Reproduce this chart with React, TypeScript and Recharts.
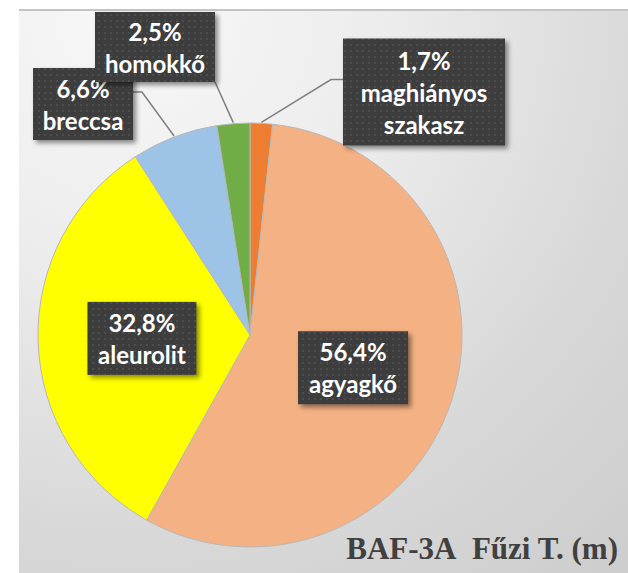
import React from 'react';
import { PieChart, Pie, Cell } from 'recharts';

const categories = ['maghiányos szakasz', 'agyagkő', 'aleurolit', 'breccsa', 'homokkő'];
const labelWords = [['maghiányos', 'szakasz'], ['agyagkő'], ['aleurolit'], ['breccsa'], ['homokkő']];
const shares = [1.7, 56.4, 32.8, 6.6, 2.5];
const colors = ['#ED7D31', '#F4B183', '#FFFF00', '#9DC3E6', '#70AD47'];
const title = 'BAF-3A\u00a0\u00a0Fűzi T. (m)';

const data = categories.map((name, i) => ({ name, value: shares[i] }));

// label box layout (position of box relative to pie centre / slice)
const boxLayout = [
  { dx: 174, dy: -243, w: 162, h: 107, side: 'left', attachY: 41, knee: -12 },
  { inside: true, rf: 0.51, w: 110, h: 73 },
  { inside: true, rf: 0.51, w: 109, h: 73 },
  { dx: -167, dy: -231, w: 100, h: 72, side: 'right', attachY: 24, knee: 9 },
  { dx: -95, dy: -288, w: 120, h: 70, side: 'right', attachY: 70, knee: 0 },
];

const RAD = Math.PI / 180;
const polar = (cx: number, cy: number, r: number, a: number) => [
  cx + r * Math.cos(-a * RAD),
  cy + r * Math.sin(-a * RAD),
];
const fmt = (v: number) => v.toFixed(1).replace('.', ',') + '%';

const renderLabel = (props: any) => {
  const { cx, cy, midAngle, outerRadius, index, value } = props;
  const L: any = boxLayout[index];
  let bx: number, by: number;
  if (L.inside) {
    [bx, by] = polar(cx, cy, outerRadius * L.rf, midAngle);
  } else {
    bx = cx + L.dx;
    by = cy + L.dy;
  }
  const left = bx - L.w / 2;
  const top = by - L.h / 2;
  const lines = [fmt(value), ...labelWords[index]];
  const spacing = 32;
  let leader = null;
  if (!L.inside) {
    const [ex, ey] = polar(cx, cy, outerRadius + 1, midAngle);
    const ax = L.side === 'left' ? left : left + L.w;
    const ay = top + L.attachY;
    const pts: number[][] = [[ex, ey]];
    if (L.knee) pts.push([ax + L.knee, ay]);
    pts.push([ax, ay]);
    leader = (
      <polyline
        points={pts.map((p) => p.join(',')).join(' ')}
        fill="none"
        stroke="#808080"
        strokeWidth={1.5}
      />
    );
  }
  return (
    <g key={'lbl' + index}>
      {leader}
      <rect x={left} y={top} width={L.w} height={L.h} fill="url(#dotPattern)" filter="url(#boxShadow)" />
      {lines.map((t, i) => (
        <text
          key={i}
          x={bx}
          y={by + (i - (lines.length - 1) / 2) * spacing}
          textAnchor="middle"
          dominantBaseline="central"
          fill="#ffffff"
          fontFamily="Lato, 'Open Sans', sans-serif"
          fontWeight={700}
          fontSize={24}
        >
          {t}
        </text>
      ))}
    </g>
  );
};

export default function App() {
  return (
    <div style={{ position: 'fixed', left: 0, top: 0, width: 628, height: 573, background: '#ffffff', overflow: 'hidden' }}>
      <style>{`.recharts-pie-sectors { filter: url(#pieShadow); }`}</style>
      <svg width="0" height="0" style={{ position: 'absolute' }}>
        <defs>
          <pattern id="dotPattern" x="0" y="0" width="6" height="6" patternUnits="userSpaceOnUse">
            <rect x="0" y="0" width="6" height="6" fill="#3d3d3d" />
            <circle cx="3" cy="3" r="1" fill="#545454" />
          </pattern>
          <filter id="boxShadow" x="-20%" y="-20%" width="150%" height="150%">
            <feDropShadow dx="3" dy="3" stdDeviation="2.5" floodColor="#000000" floodOpacity="0.45" />
          </filter>
          <filter id="pieShadow" x="-20%" y="-20%" width="140%" height="140%">
            <feDropShadow dx="2" dy="3" stdDeviation="9" floodColor="#000000" floodOpacity="0.38" />
          </filter>
        </defs>
      </svg>
      <div
        style={{
          position: 'absolute',
          left: 19,
          top: 9,
          width: 609,
          height: 564,
          borderTop: '2px solid #c4c4c4',
          background: 'radial-gradient(circle at 18% 0%, #f8f8f8 0%, #ececec 35%, #d8d8d8 70%, #cdcdcd 100%)',
        }}
      />
      <div style={{ position: 'absolute', left: 0, top: 0 }}>
        <PieChart width={628} height={573} margin={{ top: 0, right: 0, bottom: 0, left: 0 }}>
          <Pie
            data={data}
            dataKey="value"
            nameKey="name"
            cx={250}
            cy={335}
            outerRadius={212}
            startAngle={90}
            endAngle={-270}
            stroke="#b8b8b8"
            strokeWidth={1}
            label={renderLabel}
            labelLine={false}
            isAnimationActive={false}
          >
            {data.map((d, i) => (
              <Cell key={d.name} fill={colors[i]} />
            ))}
          </Pie>
        </PieChart>
      </div>
      <svg width={628} height={573} style={{ position: 'absolute', left: 0, top: 0 }}>
        <text
          x={618}
          y={559}
          textAnchor="end"
          fontFamily="'Liberation Serif', 'Times New Roman', serif"
          fontWeight={700}
          fontSize={31}
          fill="#404040"
        >
          {title}
        </text>
      </svg>
    </div>
  );
}
